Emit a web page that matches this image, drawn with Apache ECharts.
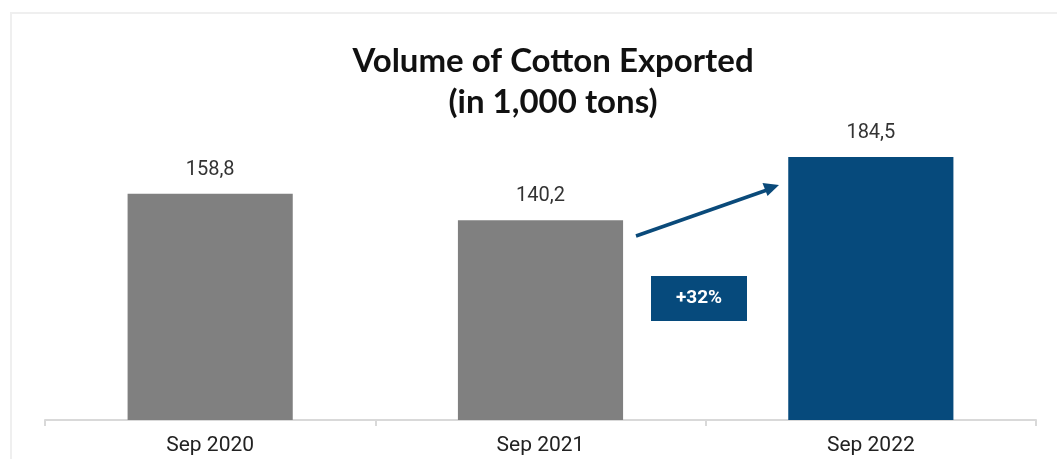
<!DOCTYPE html>
<html>
<head>
<meta charset="utf-8">
<script src="https://cdn.jsdelivr.net/npm/echarts@6/dist/echarts.min.js"></script>
<style>html,body{margin:0;padding:0;background:#fff}#c{width:1057px;height:459px}</style>
</head>
<body>
<div id="c"></div>
<script>
var categories = ['Sep 2020', 'Sep 2021', 'Sep 2022'];
var values = [158.8, 140.2, 184.5];
var barColors = ['#808080', '#808080', '#064a7c'];
var changeLabel = '+32%';

var chart = echarts.init(document.getElementById('c'));
chart.setOption({
  animation: false,
  title: {
    text: 'Volume of Cotton Exported\n(in 1,000 tons)',
    left: 548, top: 36, textAlign: 'center',
    textStyle: {fontFamily: 'Lato', fontWeight: 'bold', fontSize: 33, color: '#111', lineHeight: 41}
  },
  grid: {left: 45, right: 21, top: 135, bottom: 39},
  xAxis: {
    type: 'category', data: categories,
    axisLine: {lineStyle: {color: '#d9d9d9', width: 2}},
    axisTick: {show: true, length: 6, lineStyle: {color: '#d9d9d9', width: 2}},
    axisLabel: {margin: 15, fontFamily: 'Roboto', fontSize: 21, color: '#222'}
  },
  yAxis: {type: 'value', min: 0, max: 200, show: false, splitLine: {show: false}},
  series: [{
    type: 'bar', barWidth: '50%',
    data: values.map(function (v, i) { return {value: v, itemStyle: {color: barColors[i]}}; }),
    label: {
      show: true, position: 'top', distance: 14,
      fontFamily: 'Roboto', fontSize: 20, color: '#333',
      formatter: function (p) { return p.value.toFixed(1).replace('.', ','); }
    }
  }],
  graphic: [
    {type: 'line', shape: {x1: 10, y1: 13, x2: 1057, y2: 13}, style: {stroke: '#efefef', lineWidth: 2}},
    {type: 'line', shape: {x1: 11, y1: 13, x2: 11, y2: 459}, style: {stroke: '#efefef', lineWidth: 2}},
    {type: 'line', shape: {x1: 636, y1: 236, x2: 767, y2: 190}, style: {stroke: '#0a4a7a', lineWidth: 3.5}},
    {type: 'polygon', shape: {points: [[779, 185], [767.5, 196], [762.5, 183]]}, style: {fill: '#0a4a7a'}},
    {type: 'rect', shape: {x: 651, y: 276, width: 96, height: 45}, style: {fill: '#064a7c'}},
    {type: 'text', x: 699, y: 298.5, style: {text: changeLabel, fill: '#fff', fontFamily: 'Roboto', fontWeight: 'bold', fontSize: 19, align: 'center', verticalAlign: 'middle'}}
  ]
});
</script>
</body>
</html>
